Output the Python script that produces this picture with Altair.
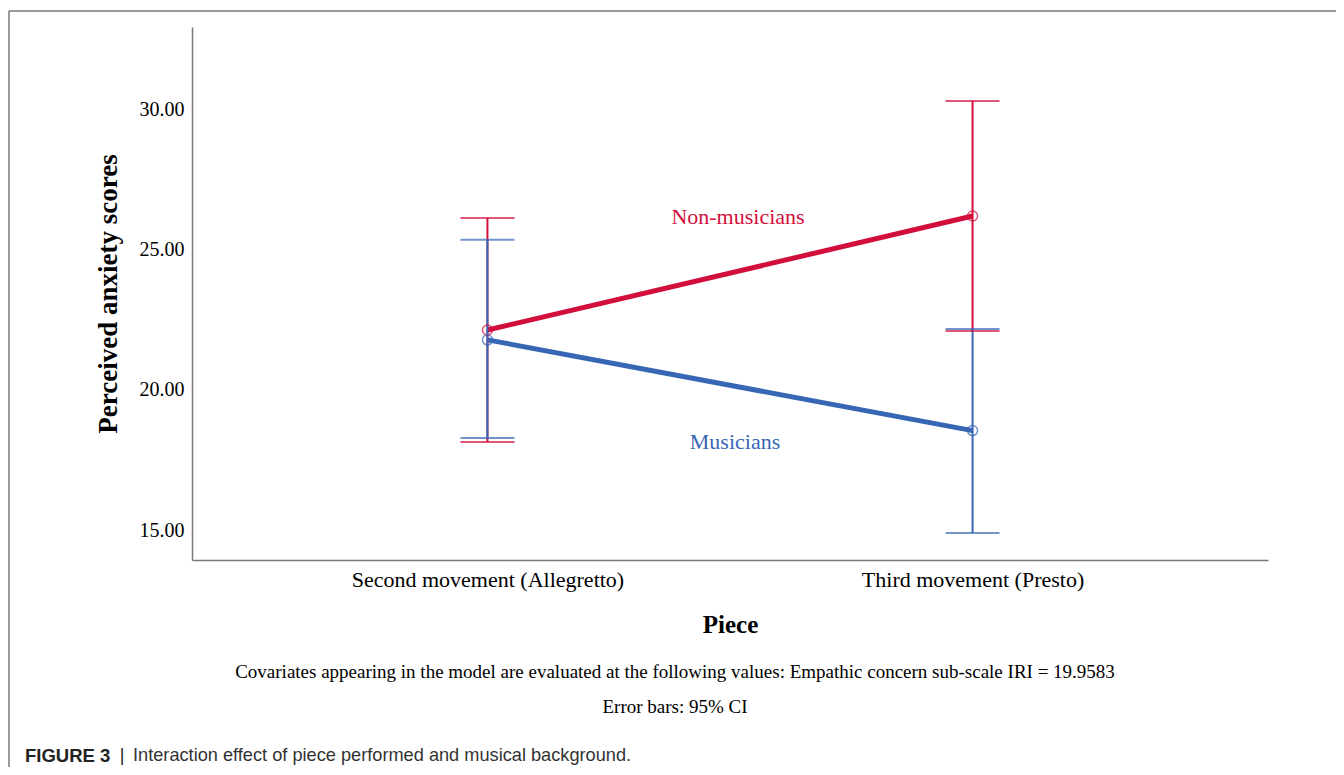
import altair as alt
import pandas as pd

# ---- data ----
pieces = ["Second movement (Allegretto)", "Third movement (Presto)"]
groups = ["Non-musicians", "Musicians"]
nonmus_mean = [22.14, 26.21]
nonmus_lo = [18.14, 22.11]
nonmus_hi = [26.14, 30.32]
mus_mean = [21.79, 18.55]
mus_lo = [18.29, 14.89]
mus_hi = [25.36, 22.18]
y_ticks = [15, 20, 25, 30]
y_domain = [13.93, 32.96]

note_lines = [
    "Covariates appearing in the model are evaluated at the following values: Empathic concern sub-scale IRI = 19.9583",
    "Error bars: 95% CI",
]
caption_bold = "FIGURE 3"
caption_sep = "|"
caption_rest = "Interaction effect of piece performed and musical background."

RED = "#D20F3C"
BLUE = "#3767B4"
GRAY = "#7a7a7a"
SERIF = "Liberation Serif"
SANS = "Liberation Sans"

rows = []
for g, m, lo, hi in [("Non-musicians", nonmus_mean, nonmus_lo, nonmus_hi),
                     ("Musicians", mus_mean, mus_lo, mus_hi)]:
    for i, p in enumerate(pieces):
        rows.append({"piece": p, "group": g, "mean": m[i], "lo": lo[i], "hi": hi[i]})
df = pd.DataFrame(rows)

W, H = 1076, 533

x = alt.X("piece:N",
          scale=alt.Scale(type="point", domain=pieces, padding=0.609),
          axis=alt.Axis(title="Piece", labelAngle=0, ticks=False, labelLimit=0,
                        domainColor=GRAY, domainWidth=1.5,
                        labelFont=SERIF, labelFontSize=22, labelColor="black",
                        labelPadding=9,
                        titleFont=SERIF, titleFontSize=25, titleFontWeight="bold",
                        titleColor="black", titlePadding=22))
yscale = alt.Scale(domain=y_domain, nice=False, zero=False)
color = alt.Color("group:N", scale=alt.Scale(domain=groups, range=[RED, BLUE]), legend=None)

base = alt.Chart(df)

lines = base.mark_line(strokeWidth=5).encode(
    x=x,
    y=alt.Y("mean:Q", scale=yscale,
            axis=alt.Axis(title="Perceived anxiety scores", values=y_ticks, format=".2f",
                          ticks=False, grid=False, domainColor=GRAY, domainWidth=1.5,
                          labelFont=SERIF, labelFontSize=20, labelColor="black",
                          labelPadding=8,
                          titleFont=SERIF, titleFontSize=27, titleFontWeight="bold",
                          titleColor="black", titlePadding=17)),
    color=color,
    detail="group:N",
)

err = base.mark_rule(strokeWidth=2).encode(
    x=alt.X("piece:N"), y=alt.Y("lo:Q"), y2="hi:Q", color=color)
cap_lo = base.mark_tick(size=54, thickness=2).encode(
    x=alt.X("piece:N"), y=alt.Y("lo:Q"), color=color)
cap_hi = base.mark_tick(size=54, thickness=2).encode(
    x=alt.X("piece:N"), y=alt.Y("hi:Q"), color=color)
pts = base.mark_point(shape="circle", filled=False, size=100, strokeWidth=1.5).encode(
    x=alt.X("piece:N"), y=alt.Y("mean:Q"), color=color)

# series labels
lab_df = pd.DataFrame({"group": groups, "ly": [26.18, 18.14], "lx": [546, 543]})
labels = alt.Chart(lab_df).mark_text(font=SERIF, fontSize=22, align="center", baseline="middle").encode(
    x=alt.X("lx:Q", scale=None), y=alt.Y("ly:Q", scale=yscale), text="group:N", color=color)

# notes under the chart
notes_df = pd.DataFrame({"t": note_lines, "py": [645, 680]})
notes = alt.Chart(notes_df).mark_text(font=SERIF, fontSize=19, align="center", baseline="middle",
                                      color="black").encode(
    x=alt.value(483), y=alt.Y("py:Q", scale=None), text="t:N")

CAP_Y = 729
cap1 = alt.Chart(pd.DataFrame({"t": [caption_bold]})).mark_text(
    font=SANS, fontSize=18.5, fontWeight="bold", align="left", baseline="middle", color="#222").encode(
    x=alt.value(-167), y=alt.value(CAP_Y), text="t:N")
cap_sep = alt.Chart(pd.DataFrame({"t": [caption_sep]})).mark_text(
    font=SANS, fontSize=18, align="center", baseline="middle", color="#222").encode(
    x=alt.value(-70), y=alt.value(CAP_Y), text="t:N")
cap2 = alt.Chart(pd.DataFrame({"t": [caption_rest]})).mark_text(
    font=SANS, fontSize=18.2, align="left", baseline="middle", color="#333").encode(
    x=alt.value(-59), y=alt.value(CAP_Y), text="t:N")

# figure frame (top and left lines)
frame_df = pd.DataFrame({"k": [0]})
top_line = alt.Chart(frame_df).mark_rule(color=GRAY, strokeWidth=1.5).encode(
    x=alt.value(-183), x2=alt.value(1160), y=alt.value(-16))
left_line = alt.Chart(frame_df).mark_rule(color=GRAY, strokeWidth=1.5).encode(
    x=alt.value(-183), y=alt.value(-16), y2=alt.value(760))

chart = alt.layer(
    top_line, left_line, lines, err, cap_lo, cap_hi, pts, labels, notes, cap1, cap_sep, cap2
).properties(
    width=W, height=H,
    autosize=alt.AutoSizeParams(type="none"),
    padding={"left": 184, "top": 19, "right": 68, "bottom": 207},
).configure(background="white").configure_view(stroke=None)

chart.save("out.html", embed_options={"renderer": "svg", "actions": False})
